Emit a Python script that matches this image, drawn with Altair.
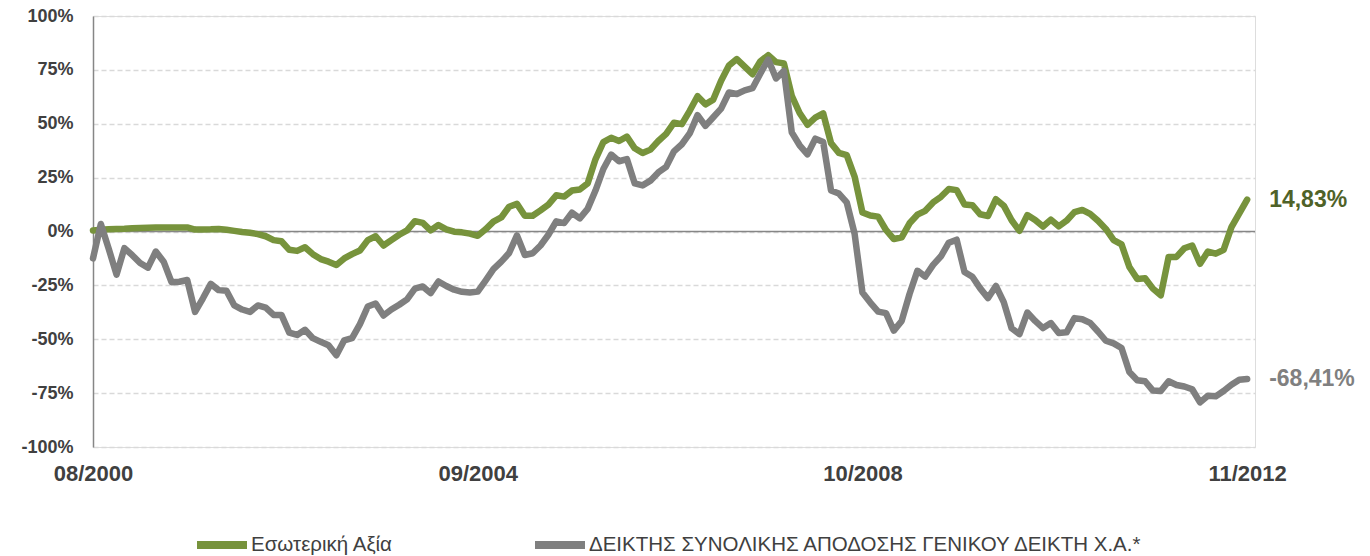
import altair as alt
import pandas as pd

FONT = "Liberation Sans"

series_names = ["Εσωτερική Αξία", "ΔΕΙΚΤΗΣ ΣΥΝΟΛΙΚΗΣ ΑΠΟΔΟΣΗΣ ΓΕΝΙΚΟΥ ΔΕΙΚΤΗ Χ.Α.*"]
line_colors = ["#77933c", "#7f7f7f"]
label_colors = ["#4f6228", "#808080"]

# monthly categories 08/2000 .. 11/2012
months = [f"{(7 + i) % 12 + 1:02d}/{2000 + (7 + i) // 12}" for i in range(148)]

intrinsic = [
    0.5, 0.8, 1.0, 1.2, 1.3, 1.5, 1.6, 1.7, 1.8, 1.8, 1.9, 1.9, 1.9,
    0.9, 0.9, 1.0, 1.2, 0.8, 0.3, -0.2, -0.6, -1.2, -2.2, -4.0, -4.5,
    -8.5, -9.0, -7.3, -10.5, -12.8, -14.0, -15.5, -12.5, -10.5, -8.8, -4.0, -2.2,
    -6.5, -4.0, -1.5, 0.5, 4.8, 4.0, 0.5, 3.0, 1.0, -0.1, -0.4, -1.0,
    -2.0, 1.0, 4.6, 6.5, 11.5, 12.8, 7.3, 7.3, 9.8, 12.5, 16.8, 16.2,
    19.0, 19.5, 22.3, 33.5, 41.5, 43.5, 42.0, 44.0, 38.6, 36.4, 38.0, 42.0,
    45.3, 50.5, 49.8, 56.0, 62.8, 59.0, 61.2, 70.0, 77.0, 80.0, 76.5, 73.0,
    79.0, 81.8, 78.6, 78.0, 63.0, 55.0, 49.5, 52.8, 54.8, 41.0, 36.5, 35.4,
    25.5, 8.8, 7.4, 6.9, 0.7, -3.5, -2.7, 3.8, 7.8, 9.6, 13.5, 16.1,
    19.7, 19.2, 12.5, 12.2, 8.0, 7.2, 15.0, 12.0, 5.2, 0.3, 7.6, 5.3,
    2.3, 5.5, 2.4, 5.0, 9.0, 10.0, 8.2, 5.0, 1.2, -4.0, -6.0, -16.5,
    -22.0, -21.7, -26.5, -29.6, -11.8, -11.8, -7.8, -6.5, -15.0, -9.3, -10.3, -8.5,
    2.0, 8.4, 14.83,
]

index_total = [
    -12.5, 3.5, -8.0, -20.0, -7.7, -11.0, -14.6, -16.8, -9.3, -14.0, -23.5, -23.3,
    -22.5, -37.3, -31.0, -24.3, -27.2, -27.5, -34.3, -36.2, -37.3, -34.3, -35.3, -38.7,
    -38.7, -46.9, -48.0, -45.6, -49.5, -51.2, -52.8, -57.4, -50.5, -49.5, -43.0, -34.8,
    -33.4, -39.0, -36.2, -34.0, -31.5, -26.5, -25.5, -28.6, -23.2, -25.3, -27.0, -28.0,
    -28.3, -27.9, -22.8, -17.5, -14.0, -10.0, -1.8, -10.9, -10.1, -6.5, -1.5, 4.7,
    3.9, 8.7, 6.1, 10.5, 19.0, 29.0, 35.7, 32.6, 33.6, 22.3, 21.4, 23.6,
    27.4, 30.0, 37.2, 40.5, 45.5, 54.0, 49.0, 53.0, 57.0, 64.5, 63.8, 65.5,
    66.5, 73.3, 79.8, 71.0, 74.5, 46.0, 40.0, 35.8, 43.1, 41.5, 19.0, 17.6,
    13.5, -1.0, -28.3, -33.0, -37.2, -37.9, -46.0, -41.5, -29.0, -18.2, -20.9, -15.5,
    -11.5, -5.2, -3.8, -18.8, -21.0, -26.4, -30.9, -25.3, -32.8, -44.9, -47.6, -37.6,
    -41.5, -44.8, -42.5, -47.1, -46.8, -40.2, -40.7, -42.4, -46.4, -50.7, -51.9, -54.1,
    -65.2, -69.0, -69.5, -73.8, -74.0, -69.5, -71.2, -71.9, -73.2, -79.3, -76.2, -76.5,
    -74.0, -71.1, -68.8, -68.41,
]

y_ticks = [-100, -75, -50, -25, 0, 25, 50, 75, 100]
x_tick_labels = ["08/2000", "09/2004", "10/2008", "11/2012"]
x_tick_pos = [months.index(t) for t in x_tick_labels]

rows = []
for name, vals in zip(series_names, [intrinsic, index_total]):
    for i, v in enumerate(vals):
        rows.append({
            "series": name,
            "idx": i,
            "month": months[i],
            "value": v,
            "label": f"{v:.2f}".replace(".", ",") + "%",
        })
df = pd.DataFrame(rows)

x_label_expr = "''"
for p, t in zip(reversed(x_tick_pos), reversed(x_tick_labels)):
    x_label_expr = f"datum.value == {p} ? '{t}' : ({x_label_expr})"

x_enc = alt.X(
    "idx:Q",
    scale=alt.Scale(domain=[0, 148], nice=False, zero=False),
    axis=alt.Axis(
        values=x_tick_pos, labelExpr=x_label_expr, title=None, grid=False,
        domain=False, ticks=False, labelPadding=16, labelFontSize=22,
        labelFontWeight="bold", labelColor="#404040", labelFont=FONT,
        labelFlush=False, labelOverlap=False,
    ),
)
y_enc = alt.Y(
    "value:Q",
    scale=alt.Scale(domain=[-100, 100], nice=False, zero=False),
    axis=alt.Axis(
        values=y_ticks, labelExpr="datum.value + '%'", title=None,
        grid=True, gridDash=[5, 3], gridColor="#d9d9d9", gridWidth=1.3,
        domain=True, domainColor="#868686", domainWidth=1.5,
        ticks=False, tickSize=0, labelPadding=20, labelFontSize=18,
        labelFontWeight="bold", labelColor="#404040", labelFont=FONT,
    ),
)
color_enc = alt.Color(
    "series:N",
    scale=alt.Scale(domain=series_names, range=line_colors),
    legend=alt.Legend(
        title=None, orient="none", legendX=100, legendY=500,
        direction="horizontal", symbolType="stroke", symbolStrokeWidth=8,
        symbolSize=2500, labelFontSize=20.5, labelFont=FONT,
        labelColor="#404040", labelLimit=900, columnPadding=125,
        labelOffset=0, padding=0,
    ),
)

base = alt.Chart(df)

zero_rule = alt.Chart(pd.DataFrame({"z": [0]})).mark_rule(
    color="#868686", strokeWidth=1.5
).encode(y=alt.Y("z:Q"))

line_layers = []
for name in series_names:
    line_layers.append(
        base.transform_filter(alt.datum.series == name)
        .mark_line(strokeWidth=6.5, strokeJoin="round", strokeCap="round")
        .encode(x=x_enc, y=y_enc, color=color_enc)
    )

end_labels = []
for name, col in zip(series_names, label_colors):
    end_labels.append(
        base.transform_filter(
            (alt.datum.series == name) & (alt.datum.idx == len(months) - 1)
        )
        .mark_text(align="left", baseline="middle", dx=22, fontSize=23,
                   fontWeight="bold", font=FONT, color=col)
        .encode(x=alt.X("idx:Q"), y=alt.Y("value:Q"), text="label:N")
    )

chart = alt.layer(zero_rule, *line_layers, *end_labels).properties(
    width=1162,
    height=431,
    autosize=alt.AutoSizeParams(type="none"),
    padding={"left": 85, "top": 8, "right": 100, "bottom": 109},
).configure_view(stroke=None).configure(background="white")

chart.save("out.html", embed_options={"renderer": "svg", "actions": False})
